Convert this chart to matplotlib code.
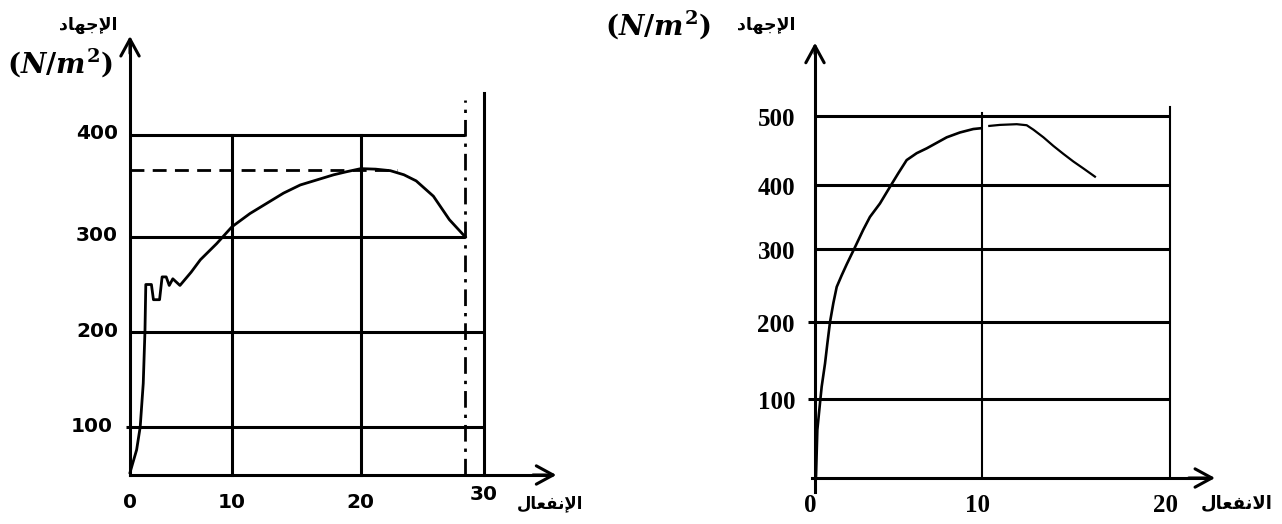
import numpy as np
import matplotlib
matplotlib.use("Agg")
import matplotlib.pyplot as plt

plt.rcParams["mathtext.fontset"] = "custom"
plt.rcParams["mathtext.rm"] = "DejaVu Serif:bold"
plt.rcParams["mathtext.it"] = "DejaVu Serif:italic:bold"
plt.rcParams["mathtext.bf"] = "DejaVu Serif:bold"

# ---------------- data: left stress-strain curve ----------------
strain_left = [0, 0.65, 1.0, 1.3, 1.47, 1.55, 2.1, 2.3, 2.9, 3.15, 3.55, 3.85,
               4.2, 4.9, 6.0, 6.9, 8.5, 10, 11.4, 12.7, 14.0, 15.3, 16.6, 17.9,
               18.9, 20, 21.2, 22.4, 23.5, 24.5, 25.9, 27.2, 28.5]
stress_left = [52, 76, 100, 146, 202, 250, 250, 234, 234, 258, 258, 249,
               256, 249, 263, 276, 293, 310, 323, 333, 343, 351, 356, 361,
               364, 367, 366.5, 365, 361, 355, 340, 317, 300]
left_xticks = [0, 10, 20, 30]
left_yticks = [100, 200, 300, 400]
left_peak_stress = 366
left_break_strain = 28.5

# ---------------- data: right stress-strain curve ----------------
strain_right_a = [0, 0.06, 0.14, 0.30, 0.40, 0.60, 0.74, 0.90, 1.10, 1.30, 1.60,
                  1.90, 2.40, 2.89, 3.29, 3.89, 4.49, 4.99, 5.49, 6.09, 6.69,
                  7.29, 7.89, 8.68, 9.48, 9.88]
stress_right_a = [0, 2, 61, 95, 116, 146, 172, 200, 226, 248, 264,
                  279, 303, 330, 350, 371, 397, 417, 436, 446, 453,
                  461, 469, 476, 481, 482]
strain_right_b = [10.39, 10.96, 11.85, 12.38, 12.74, 13.27, 13.80, 14.33, 14.86,
                  15.39, 16.01]
stress_right_b = [485.5, 487, 488, 486.5, 480, 469, 456.5, 445, 434, 424, 412]
right_xticks = [0, 10, 20]
right_yticks = [100, 200, 300, 400, 500]

# Arabic labels in presentation forms, visual order
stress_word = "\ufea9\ufe8e\ufeec\ufe9f\ufef9\ufe8d"          # الإجهاد
strain_word_left = "\ufedd\ufe8e\ufecc\ufed4\ufee7\ufef9\ufe8d"  # الإنفعال
strain_word_right = "\ufedd\ufe8e\ufecc\ufed4\ufee7\ufefb\ufe8d" # الانفعال
unit_text = r"$(N/m^2)$"

W, H = 1282, 524
fig = plt.figure(figsize=(W / 100, H / 100), dpi=100)


def piecewise_scale(src, dst):
    src = np.asarray(src, float)
    dst = np.asarray(dst, float)
    return (lambda v: np.interp(v, src, dst), lambda v: np.interp(v, dst, src))


def add_axes_px(x0, y0, x1, y1):
    """Axes box given in pixel coords measured from the top-left corner."""
    return fig.add_axes([x0 / W, (H - y1) / H, (x1 - x0) / W, (y1 - y0) / H])


def arrow(ax, start, tip, lw):
    ax.annotate("", xy=tip, xytext=start,
                arrowprops=dict(arrowstyle="->,head_length=0.55,head_width=0.3",
                                lw=lw, color="black", mutation_scale=22,
                                shrinkA=0, shrinkB=0),
                annotation_clip=False)


# ======================= left chart =======================
axL = add_axes_px(130, 30, 560, 475)
axL.set_xscale("function", functions=piecewise_scale([-50, 0, 10, 20, 30, 100],
                                                      [-510, 0, 102, 231, 354, 1215]))
axL.set_yscale("function", functions=piecewise_scale([-500, 100, 200, 300, 400, 1000],
                                                      [-570, 0, 95, 190, 292, 904]))
axL.set_xlim(0, 36.2)
axL.set_ylim(49.5, 502.9)
axL.axis("off")

lwL = 2.2
# horizontal grid lines
for v in left_yticks:
    x_end = left_break_strain if v >= 300 else 30
    x_start = -0.4 if v == 100 else 0
    axL.plot([x_start, x_end], [v, v], color="black", lw=lwL, clip_on=False,
             solid_capstyle="butt")
# vertical grid lines
for v in [10, 20]:
    axL.plot([v, v], [49.5, 400], color="black", lw=lwL, clip_on=False)
axL.plot([30, 30], [49.5, 441], color="black", lw=lwL, clip_on=False)
# dashed guides at the peak stress and the break strain
axL.plot([0, 22.9], [left_peak_stress, left_peak_stress], color="black", lw=2.0,
         dashes=(5, 3), clip_on=False)
axL.plot([left_break_strain, left_break_strain], [49.5, 434], color="black", lw=2.0,
         dashes=(6, 2.5, 1.2, 2.5), clip_on=False)
# curve
axL.plot(strain_left, stress_left, color="black", lw=2.0, clip_on=False,
         solid_joinstyle="round")
# axes with arrows
axL.plot([0, 35.5], [49.5, 49.5], color="black", lw=lwL, clip_on=False)
arrow(axL, (34.0, 49.5), (35.9, 49.5), lwL)
axL.plot([0, 0], [49.5, 490], color="black", lw=lwL, clip_on=False)
arrow(axL, (0, 480), (0, 497), lwL)

for v in left_xticks:
    dy = -20 if v == 30 else -27
    axL.annotate(str(v), xy=(v, 49.5), xytext=(0, dy), textcoords="offset pixels",
                 ha="center", va="center", fontsize=14.5, fontweight="bold",
                 family="DejaVu Sans", annotation_clip=False)
for v in left_yticks:
    dx = -17 if v == 100 else -12
    axL.annotate(str(v), xy=(0, v), xytext=(dx, 1), textcoords="offset pixels",
                 ha="right", va="center", fontsize=14.5, fontweight="bold",
                 family="DejaVu Sans", annotation_clip=False)

fig.text(88 / W, 1 - 25 / H, stress_word, ha="center", va="center",
         fontsize=12.5, fontweight="bold", family="DejaVu Sans")
fig.text(60 / W, 1 - 63 / H, unit_text, ha="center", va="center", fontsize=20)
fig.text(550 / W, 1 - 503 / H, strain_word_left, ha="center", va="center",
         fontsize=12, fontweight="bold", family="DejaVu Sans")

# ======================= right chart =======================
axR = add_axes_px(815, 40, 1225, 478)
axR.set_xscale("function", functions=piecewise_scale([-50, 0, 10, 20, 100],
                                                      [-835, 0, 167, 355, 1859]))
axR.set_yscale("function", functions=piecewise_scale([-500, 0, 100, 200, 300, 400, 500, 1500],
                                                      [-395, 0, 79, 156, 229, 293, 362, 1052]))
axR.set_xlim(0, 22.93)
axR.set_ylim(0, 610)
axR.axis("off")

for v in right_yticks:
    axR.plot([-0.4 if v in (100, 200) else 0, 20], [v, v], color="black", lw=2.2,
             clip_on=False, solid_capstyle="butt")
axR.plot([10, 10], [0, 504], color="black", lw=1.5, clip_on=False)
axR.plot([20, 20], [0, 513], color="black", lw=1.5, clip_on=False)

axR.plot(strain_right_a, stress_right_a, color="black", lw=1.9, clip_on=False,
         solid_joinstyle="round")
axR.plot(strain_right_b, stress_right_b, color="black", lw=1.6, clip_on=False,
         solid_joinstyle="round")

axR.plot([-0.18, 22.0], [0, 0], color="black", lw=2.2, clip_on=False)
arrow(axR, (21.0, 0), (22.4, 0), 2.2)
axR.plot([0, 0], [-17.7, 598], color="black", lw=2.2, clip_on=False)
arrow(axR, (0, 590), (0, 606), 2.2)

for v in right_xticks:
    axR.annotate(str(v), xy=(v, 0), xytext=(-4 if v else -5, -28), textcoords="offset pixels",
                 ha="center", va="center", fontsize=18, fontweight="bold",
                 family="Liberation Serif", annotation_clip=False)
for v in right_yticks:
    axR.annotate(str(v), xy=(0, v), xytext=(-20, -4), textcoords="offset pixels",
                 ha="right", va="center", fontsize=18, fontweight="bold",
                 family="Liberation Serif", annotation_clip=False)

fig.text(766 / W, 1 - 25 / H, stress_word, ha="center", va="center",
         fontsize=12.5, fontweight="bold", family="DejaVu Sans")
fig.text(658 / W, 1 - 25 / H, unit_text, ha="center", va="center", fontsize=20)
fig.text(1237 / W, 1 - 503 / H, strain_word_right, ha="center", va="center",
         fontsize=13, fontweight="bold", family="DejaVu Sans")

fig.savefig("out.png", dpi=100, facecolor="white")
